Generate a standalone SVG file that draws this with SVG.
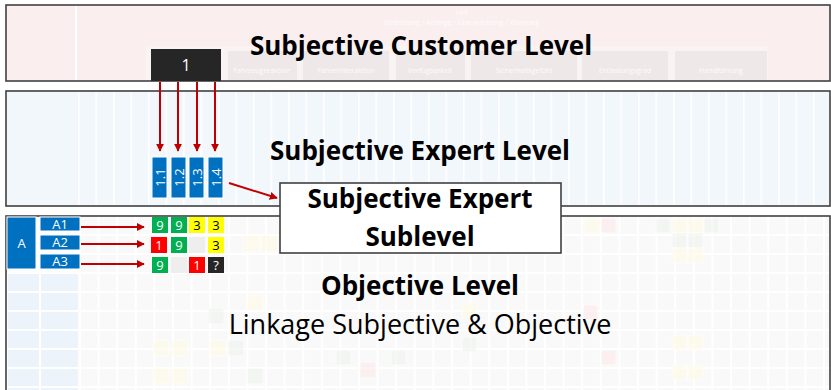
<svg xmlns="http://www.w3.org/2000/svg" width="831" height="390" viewBox="0 0 831 390">
<style>
.panel{stroke:#404040;stroke-width:1.6}
.title{font-family:"Open Sans","Liberation Sans",sans-serif;font-weight:bold;font-size:26px;fill:#000;text-anchor:middle}
.sub{font-family:"Open Sans","Liberation Sans",sans-serif;font-size:27px;fill:#000;text-anchor:middle}
.lbl{font-family:"Open Sans","Liberation Sans",sans-serif;font-size:13px;fill:#fff;text-anchor:middle}
.faint{font-family:"Open Sans","Liberation Sans",sans-serif;font-size:7px;fill:#fff;text-anchor:middle}
.blue{fill:#0070c0;stroke:#fff;stroke-width:1}
.conn{stroke:#c00000;stroke-width:2;fill:none;marker-end:url(#ah)}
.fc{stroke:#fff;stroke-width:1;opacity:0.6}
</style>
<defs>
<marker id="ah" viewBox="0 0 10 10" refX="9" refY="5" markerWidth="4" markerHeight="4" orient="auto" markerUnits="strokeWidth">
<path d="M0,0 L10,5 L0,10 z" fill="#c00000"/>
</marker>
<pattern id="grid" x="80" y="216" width="18.6" height="19" patternUnits="userSpaceOnUse">
<rect x="0" y="0" width="18.6" height="19" fill="#f9f9f9" stroke="#ffffff" stroke-width="2"/>
</pattern>
<pattern id="lgrid" x="0" y="273" width="40" height="19" patternUnits="userSpaceOnUse">
<rect x="0" y="0" width="40" height="19" fill="#ecf3fb" stroke="#ffffff" stroke-width="2"/>
</pattern>
<pattern id="stripes" x="78" y="0" width="17.5" height="10" patternUnits="userSpaceOnUse">
<rect x="0" y="0" width="17.5" height="10" fill="#f2f7fc"/>
<rect x="0" y="0" width="1.5" height="10" fill="#ffffff"/>
</pattern>
</defs>

<!-- Top panel -->
<g id="customer-level">
<rect class="panel" x="6" y="5" width="824" height="76" fill="#fbeeee"/>
<rect x="75" y="6" width="2" height="74" fill="#ffffff"/>
<rect x="146" y="46" width="622" height="34" fill="#f9f3f3"/>
<g fill="#efe8e8">
<rect x="228" y="51" width="69" height="29"/>
<rect x="303" y="51" width="86" height="29"/>
<rect x="396" y="51" width="69" height="29"/>
<rect x="471" y="51" width="106" height="29"/>
<rect x="582" y="51" width="86" height="29"/>
<rect x="675" y="51" width="92" height="29"/>
</g>
<g class="faint" opacity="0.9">
<text x="262" y="73">Fahrzeugreaktion</text>
<text x="346" y="73">Fahrerinteraktion</text>
<text x="430" y="73">Verfügbarkeit</text>
<text x="524" y="73">Sicherheitsgefühl</text>
<text x="625" y="73">Entlastungsgrad</text>
<text x="721" y="73">Handführung</text>
<text x="462" y="15">HMI</text>
<text x="462" y="25">Bedienung / Anzeige / Überwachung / Warnung</text>
</g>
<text class="title" x="421" y="55">Subjective Customer Level</text>
</g>

<!-- Middle panel -->
<g id="expert-level">
<rect class="panel" x="6" y="91" width="824" height="115" fill="#f2f7fc"/>
<rect x="78" y="92" width="751" height="113" fill="url(#stripes)"/>
<text class="title" x="420" y="160">Subjective Expert Level</text>
</g>

<!-- Bottom panel -->
<g id="objective-level">
<rect x="6" y="216" width="824" height="180" fill="#fdfdfd" stroke="#404040" stroke-width="1.6"/>
<rect x="80" y="217" width="749" height="173" fill="url(#grid)"/>
<rect x="8" y="273" width="70" height="117" fill="url(#lgrid)"/>
<g class="fc">
<rect x="243" y="235" width="17" height="17" fill="#fdfbe6"/>
<rect x="261" y="235" width="17" height="17" fill="#fdfbe6"/>
<rect x="585" y="218" width="15" height="15" fill="#fdfbe6"/>
<rect x="601" y="218" width="15" height="15" fill="#fde9e9"/>
<rect x="655" y="218" width="15" height="15" fill="#eff4ee"/>
<rect x="672" y="218" width="15" height="15" fill="#fdfbe6"/>
<rect x="688" y="218" width="15" height="15" fill="#fdfbe6"/>
<rect x="704" y="218" width="15" height="15" fill="#eff4ee"/>
<rect x="672" y="233" width="15" height="15" fill="#eff4ee"/>
<rect x="688" y="233" width="15" height="15" fill="#eff4ee"/>
<rect x="672" y="248" width="15" height="15" fill="#fdfbe6"/>
<rect x="688" y="248" width="15" height="15" fill="#fdfbe6"/>
<rect x="583" y="305" width="15" height="15" fill="#fde9e9"/>
<rect x="462" y="303" width="15" height="15" fill="#fdfbe6"/>
<rect x="462" y="337" width="15" height="15" fill="#eff4ee"/>
<rect x="672" y="335" width="15" height="15" fill="#fdfbe6"/>
<rect x="688" y="335" width="15" height="15" fill="#fdfbe6"/>
<rect x="336" y="350" width="15" height="15" fill="#eff4ee"/>
<rect x="391" y="350" width="15" height="15" fill="#eff4ee"/>
<rect x="601" y="350" width="15" height="15" fill="#fde9e9"/>
<rect x="672" y="365" width="15" height="15" fill="#fdfbe6"/>
<rect x="688" y="365" width="15" height="15" fill="#fdfbe6"/>
<rect x="153" y="340" width="16" height="16" fill="#fdfbe6"/>
<rect x="172" y="340" width="16" height="16" fill="#fdfbe6"/>
<rect x="210" y="340" width="16" height="16" fill="#fdfbe6"/>
<rect x="228" y="340" width="16" height="16" fill="#eff4ee"/>
<rect x="153" y="368" width="16" height="16" fill="#fdfbe6"/>
<rect x="172" y="368" width="16" height="16" fill="#fdfbe6"/>
<rect x="247" y="368" width="16" height="16" fill="#eff4ee"/>
<rect x="247" y="295" width="16" height="16" fill="#fdfbe6"/>
<rect x="208" y="308" width="16" height="16" fill="#eff4ee"/>
<rect x="360" y="362" width="16" height="16" fill="#fde9e9"/>
</g>
<text class="title" x="420" y="295">Objective Level</text>
<text class="sub" x="420" y="334">Linkage Subjective &amp; Objective</text>
</g>

<!-- Customer attribute node -->
<g id="node-1">
<rect x="151" y="49" width="70" height="32" fill="#262626"/>
<text class="lbl" x="186" y="71" style="font-size:16px">1</text>
</g>

<!-- Expert sub-attributes -->
<g id="node-1-1">
<rect class="blue" x="152" y="157" width="15" height="41"/>
<text class="lbl" transform="translate(164.5,177.5) rotate(-90)">1.1</text>
</g>
<g id="node-1-2">
<rect class="blue" x="171" y="157" width="15" height="41"/>
<text class="lbl" transform="translate(183.5,177.5) rotate(-90)">1.2</text>
</g>
<g id="node-1-3">
<rect class="blue" x="189" y="157" width="15" height="41"/>
<text class="lbl" transform="translate(201.5,177.5) rotate(-90)">1.3</text>
</g>
<g id="node-1-4">
<rect class="blue" x="208" y="157" width="15" height="41"/>
<text class="lbl" transform="translate(220.5,177.5) rotate(-90)">1.4</text>
</g>

<!-- Sublevel box -->
<g id="sublevel">
<rect x="280" y="183" width="281" height="70" fill="#ffffff" stroke="#404040" stroke-width="1.6"/>
<text class="title" x="420" y="208">Subjective Expert</text>
<text class="title" x="420" y="246">Sublevel</text>
</g>

<!-- Objective parameters -->
<g id="node-A">
<rect class="blue" x="7" y="217" width="29" height="52"/>
<text class="lbl" x="21.5" y="248">A</text>
</g>
<g id="node-A1">
<rect class="blue" x="40" y="217" width="40" height="14"/>
<text class="lbl" x="60" y="229">A1</text>
</g>
<g id="node-A2">
<rect class="blue" x="40" y="235" width="40" height="15"/>
<text class="lbl" x="60" y="247">A2</text>
</g>
<g id="node-A3">
<rect class="blue" x="40" y="254" width="40" height="15"/>
<text class="lbl" x="60" y="266">A3</text>
</g>

<!-- Linkage matrix cells -->
<g id="matrix" font-family="'Open Sans','Liberation Sans',sans-serif" font-size="13" text-anchor="middle">
<rect x="152" y="217" width="16" height="16" fill="#00b050"/><text x="160" y="229.5" fill="#fff">9</text>
<rect x="171" y="217" width="16" height="16" fill="#00b050"/><text x="179" y="229.5" fill="#fff">9</text>
<rect x="189" y="217" width="16" height="16" fill="#ffff00"/><text x="197" y="229.5" fill="#000">3</text>
<rect x="208" y="217" width="16" height="16" fill="#ffff00"/><text x="216" y="229.5" fill="#000">3</text>
<rect x="151" y="237" width="16" height="16" fill="#ff0000"/><text x="159" y="249.5" fill="#fff">1</text>
<rect x="171" y="237" width="16" height="16" fill="#00b050"/><text x="179" y="249.5" fill="#fff">9</text>
<rect x="189" y="237" width="16" height="16" fill="#eeeeee"/>
<rect x="208" y="237" width="16" height="16" fill="#ffff00"/><text x="216" y="249.5" fill="#000">3</text>
<rect x="152" y="257" width="16" height="16" fill="#00b050"/><text x="160" y="269.5" fill="#fff">9</text>
<rect x="171" y="257" width="16" height="16" fill="#eeeeee"/>
<rect x="189" y="257" width="16" height="16" fill="#ff0000"/><text x="197" y="269.5" fill="#fff">1</text>
<rect x="208" y="257" width="16" height="16" fill="#262626"/><text x="216" y="269.5" fill="#fff">?</text>
</g>

<!-- Connectors -->
<g id="connectors">
<line class="conn" x1="160" y1="82" x2="160" y2="151"/>
<line class="conn" x1="178" y1="82" x2="178" y2="151"/>
<line class="conn" x1="197" y1="82" x2="197" y2="151"/>
<line class="conn" x1="215" y1="82" x2="215" y2="151"/>
<line class="conn" x1="229" y1="183" x2="277" y2="198"/>
<line class="conn" x1="81" y1="227" x2="144" y2="227"/>
<line class="conn" x1="81" y1="244" x2="144" y2="244"/>
<line class="conn" x1="81" y1="264" x2="144" y2="264"/>
</g>
</svg>
